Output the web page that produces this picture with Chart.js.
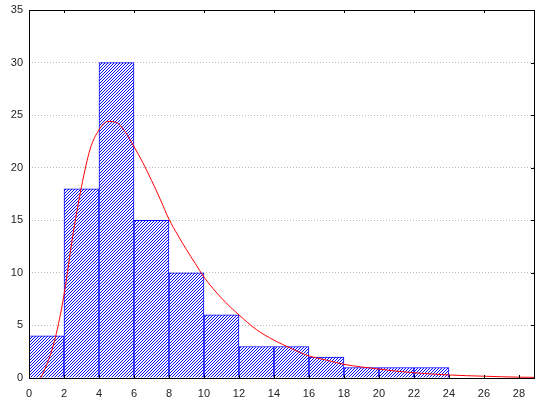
<!DOCTYPE html>
<html>
<head>
<meta charset="utf-8">
<script src="https://cdn.jsdelivr.net/npm/chart.js@4"></script>
<style>
  html, body { margin: 0; padding: 0; background: #fff; }
  #wrap { width: 540px; height: 405px; }
</style>
</head>
<body>
<div id="wrap"><canvas id="chart"></canvas></div>
<script>
// histogram bins (width 2) and counts
const binCenters = [1, 3, 5, 7, 9, 11, 13, 15, 17, 19, 21, 23, 25, 27];
const binCounts = [4, 18, 30, 15, 10, 6, 3, 3, 2, 1, 1, 1, 0, 0];

// fitted curve
const curveX = [0.67, 1.0, 1.5, 2.0, 2.5, 3.0, 3.5, 4.0, 4.5, 5.0, 5.5, 6.0, 6.5, 7.0, 7.5, 8.0, 8.5, 9.0, 9.5, 10.0,
                11.0, 12.0, 13.0, 14.0, 15.0, 16.0, 17.0, 18.0, 19.0, 20.0, 21.0, 22.0, 23.0, 24.0, 25.0, 26.0, 27.0, 28.0, 28.86];
const curveY = [0, 1.2, 3.8, 7.9, 13.5, 18.2, 21.8, 23.6, 24.4, 24.3, 23.4, 22.0, 20.5, 18.8, 17.0, 15.1, 13.6, 12.2, 10.9, 9.6,
                7.6, 6.0, 4.6, 3.6, 2.8, 2.1, 1.7, 1.3, 1.05, 0.85, 0.65, 0.5, 0.38, 0.29, 0.22, 0.17, 0.12, 0.08, 0.06];

const xTicks = [0, 2, 4, 6, 8, 10, 12, 14, 16, 18, 20, 22, 24, 26, 28];
const xTopTicks = [2, 6, 10, 14, 18, 22, 26];
const yTicks = [0, 5, 10, 15, 20, 25, 30, 35];

function hatch() {
    const c = document.createElement('canvas');
    c.width = 3; c.height = 3;
    const g = c.getContext('2d');
    g.fillStyle = '#ffffff';
    g.fillRect(0, 0, 3, 3);
    g.fillStyle = '#0000ff';
    g.fillRect(2, 0, 1, 1);
    g.fillRect(1, 1, 1, 1);
    g.fillRect(0, 2, 1, 1);
    return g.createPattern(c, 'repeat');
}

// frame and little inward ticks
const framePlugin = {
    id: 'frame',
    afterDraw(chart) {
        const { ctx, chartArea: a, scales: { x, y } } = chart;
        ctx.save();
        ctx.strokeStyle = '#000';
        ctx.lineWidth = 1;
        ctx.beginPath();
        xTicks.forEach(v => {
            const px = Math.round(x.getPixelForValue(v)) + 0.5;
            ctx.moveTo(px, a.bottom); ctx.lineTo(px, a.bottom - 3);
        });
        xTopTicks.forEach(v => {
            const px = Math.round(x.getPixelForValue(v)) + 0.5;
            ctx.moveTo(px, a.top); ctx.lineTo(px, a.top + 3);
        });
        yTicks.forEach(v => {
            const py = Math.round(y.getPixelForValue(v)) + 0.5;
            ctx.moveTo(a.right, py); ctx.lineTo(a.right - 3, py);
        });
        ctx.stroke();
        ctx.strokeRect(Math.round(a.left) + 0.5, Math.round(a.top) + 0.5,
                       Math.round(a.right - a.left), Math.round(a.bottom - a.top));
        ctx.restore();
    }
};

const font = { family: 'Liberation Sans, Arial, sans-serif', size: 11 };

new Chart(document.getElementById('chart'), {
    data: {
        datasets: [{
            type: 'line',
            data: curveX.map((v, i) => ({ x: v, y: curveY[i] })),
            borderColor: '#ff0000',
            borderWidth: 1,
            pointRadius: 0,
            cubicInterpolationMode: 'monotone',
            order: 0
        }, {
            type: 'bar',
            data: binCenters.map((v, i) => ({ x: v, y: binCounts[i] })),
            backgroundColor: hatch(),
            borderColor: '#0000ff',
            borderWidth: 1,
            barPercentage: 1,
            categoryPercentage: 1,
            order: 1
        }]
    },
    options: {
        responsive: true,
        maintainAspectRatio: false,
        animation: false,
        layout: { padding: { top: 10, right: 6, left: 0, bottom: 0 } },
        plugins: { legend: { display: false }, tooltip: { enabled: false } },
        scales: {
            x: {
                type: 'linear',
                offset: false,
                min: 0,
                max: 28.86,
                afterBuildTicks: s => { s.ticks = xTicks.map(v => ({ value: v })); },
                afterFit: s => { s.height = 27; },
                grid: { display: false, drawTicks: false, offset: false },
                border: { display: false },
                ticks: { color: '#222', font: font, padding: 9, maxRotation: 0, autoSkip: false }
            },
            y: {
                min: 0,
                max: 35,
                afterBuildTicks: s => { s.ticks = yTicks.map(v => ({ value: v })); },
                afterFit: s => { s.width = 29; s.paddingTop = 0; s.paddingBottom = 0; },
                grid: {
                    drawTicks: false,
                    color: c => (c.tick.value === 0 || c.tick.value === 35) ? 'rgba(0,0,0,0)' : '#bbbbbb',
                    lineWidth: 1
                },
                border: { display: false, dash: [1, 2] },
                ticks: { color: '#222', font: font, padding: 6 }
            }
        }
    },
    plugins: [framePlugin]
});
</script>
</body>
</html>
